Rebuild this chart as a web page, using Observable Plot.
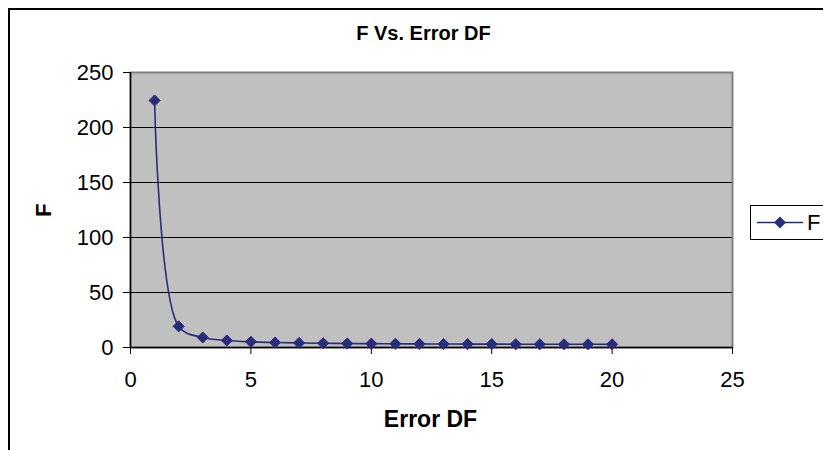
<!DOCTYPE html>
<html>
<head>
<meta charset="utf-8">
<script src="https://cdn.jsdelivr.net/npm/d3@7"></script>
<script src="https://cdn.jsdelivr.net/npm/@observablehq/plot@0.6"></script>
<style>
  html, body { margin: 0; padding: 0; background: #fff; }
  #wrap { position: relative; width: 823px; height: 450px; overflow: hidden; font-family: Arial, "Liberation Sans", sans-serif; }
  #frame { position: absolute; left: 8px; top: 8px; width: 900px; height: 500px; border: 2px solid #000; box-sizing: border-box; }
  .lbl { position: absolute; font-weight: bold; color: #000; letter-spacing: 0px; white-space: nowrap; }
  #legend { position: absolute; left: 750px; top: 205px; width: 100px; height: 35px; border: 1.5px solid #000; background: #fff; box-sizing: border-box; }
  #chart { position: absolute; left: 0; top: 0; }
</style>
</head>
<body>
<div id="wrap">
  <div id="frame"></div>
  <div id="chart"></div>
  <div class="lbl" id="title" style="left:0;width:847px;text-align:center;top:22px;font-size:20px;">F Vs. Error DF</div>
  <div class="lbl" id="xlab" style="left:0;width:861px;text-align:center;top:406px;font-size:23px;">Error DF</div>
  <div class="lbl" id="ylab" style="left:31px;top:217px;font-size:22px;transform:rotate(-90deg);transform-origin:left top;">F</div>
  <div id="legend"></div>
</div>
<script>
const errorDF = [1,2,3,4,5,6,7,8,9,10,11,12,13,14,15,16,17,18,19,20];
const fValues = [224.6,19.25,9.12,6.39,5.19,4.53,4.12,3.84,3.63,3.48,3.36,3.26,3.18,3.11,3.06,3.01,2.96,2.93,2.90,2.87];
const xTicks = [0,5,10,15,20,25];
const yTicks = [0,50,100,150,200,250];
const seriesName = "F";

const data = errorDF.map((d, i) => ({df: d, f: fValues[i]}));
const navy = "#2b2b7c";

const chart = Plot.plot({
  width: 823,
  height: 450,
  marginLeft: 130,
  marginRight: 91,
  marginTop: 72,
  marginBottom: 103,
  style: {fontFamily: "Arial, 'Liberation Sans', sans-serif", fontSize: "22px", background: "transparent", color: "#000"},
  x: {domain: [0, 25], ticks: xTicks, label: null},
  y: {domain: [0, 250], ticks: yTicks, label: null},
  marks: [
    Plot.frame({fill: "#c0c0c0", stroke: "#808080", strokeWidth: 2}),
    Plot.gridY(yTicks.slice(1, -1), {stroke: "#000", strokeOpacity: 1, strokeWidth: 1}),
    Plot.ruleY([0], {stroke: "#000", strokeWidth: 1.5}),
    Plot.ruleX([0], {stroke: "#000", strokeWidth: 1.5}),
    Plot.axisX({ticks: xTicks, tickSize: 7, tickPadding: 17, fontSize: 22, stroke: "#000", strokeWidth: 1}),
    Plot.axisY({ticks: yTicks, tickSize: 7, tickPadding: 10, fontSize: 22, stroke: "#000", strokeWidth: 1}),
    Plot.line(data, {x: "df", y: "f", stroke: navy, strokeWidth: 1.6, curve: "catmull-rom"}),
    Plot.dot(data, {x: "df", y: "f", symbol: "diamond2", r: 5, fill: navy, stroke: navy, strokeWidth: 1})
  ]
});
document.getElementById("chart").appendChild(chart);

// legend
const leg = d3.select("#legend").append("svg").attr("width", 100).attr("height", 35)
  .style("position", "absolute").style("left", "-1px").style("top", "-1px");
leg.append("line").attr("x1", 7).attr("x2", 53).attr("y1", 17.5).attr("y2", 17.5).attr("stroke", navy).attr("stroke-width", 1.6);
leg.append("path").attr("d", d3.symbol(d3.symbolDiamond2, 90)()).attr("transform", "translate(30,17.5)").attr("fill", navy);
leg.append("text").text(seriesName).attr("x", 57).attr("y", 25).attr("font-size", 22).attr("font-family", "Arial, 'Liberation Sans', sans-serif");
</script>
</body>
</html>
